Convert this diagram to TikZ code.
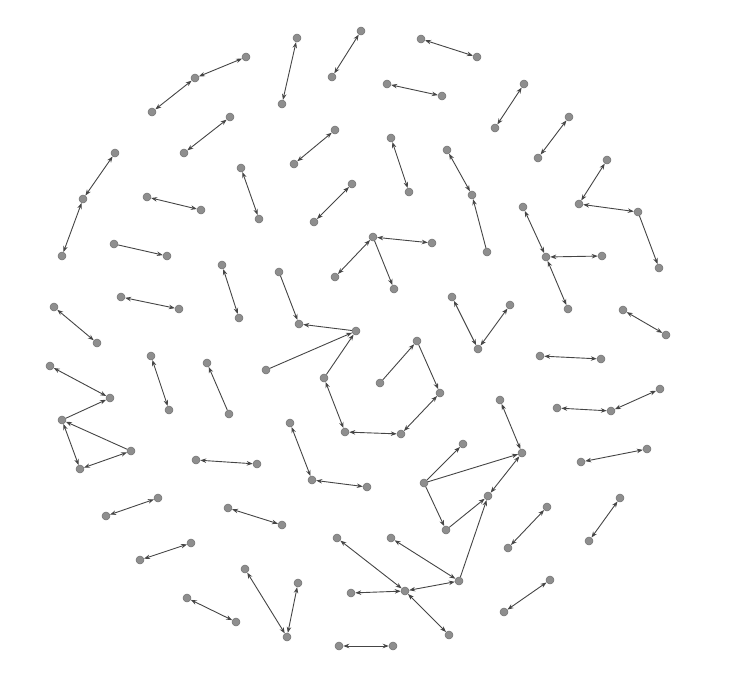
\documentclass[tikz,border=0pt]{standalone}
\usetikzlibrary{arrows.meta}
\definecolor{nodegray}{HTML}{8E8E8E}
\definecolor{nodeedge}{HTML}{707070}
\definecolor{edgegray}{HTML}{454545}
\tikzset{
  vtx/.style={circle,fill=nodegray,draw=nodeedge,line width=0.5pt,inner sep=0pt,minimum size=8pt},
  bi/.style={draw=edgegray,line width=0.9pt,{Stealth[length=6pt,width=4.5pt]}-{Stealth[length=6pt,width=4.5pt]}},
  uni/.style={draw=edgegray,line width=0.9pt,-{Stealth[length=6pt,width=4.5pt]}}
}
\begin{document}
\begin{tikzpicture}[x=1pt,y=-1pt]
\useasboundingbox (0,0) rectangle (747,694);
\foreach \n/\px/\py in {
1/246/57, 2/195/78, 3/152/112, 4/230/117, 5/184/153, 6/115/153, 7/83/199, 8/62/256,
9/297/38, 10/282/104, 11/361/31, 12/332/77, 13/421/39, 14/477/57, 15/387/84, 16/442/96,
17/335/130, 18/294/164, 19/391/138, 20/409/192, 21/447/150, 22/472/195, 23/487/252,
24/524/84, 25/495/128, 26/569/117, 27/538/158, 28/607/160, 29/579/204, 30/638/212, 31/659/268,
32/523/207, 33/546/257, 34/602/256, 35/568/309, 36/623/310, 37/666/335, 38/510/305, 39/478/349,
40/452/297, 41/147/197, 42/201/210, 43/114/244, 44/167/256, 45/121/297, 46/179/309,
47/222/265, 48/239/318, 49/54/307, 50/97/343, 51/241/168, 52/259/219, 53/352/184, 54/314/222,
55/373/237, 56/432/243, 57/335/277, 58/394/289, 59/279/272, 60/299/324, 61/356/331,
62/266/370, 63/324/378, 64/345/432, 65/401/434, 66/440/393, 67/417/341, 68/380/383,
69/50/366, 70/110/398, 71/62/420, 72/131/451, 73/80/469, 74/151/356, 75/169/410,
76/207/363, 77/229/414, 78/196/460, 79/257/464, 80/106/516, 81/158/498, 82/228/508,
83/282/525, 84/290/423, 85/312/480, 86/367/487, 87/424/483, 88/463/444, 89/522/453,
90/446/530, 91/488/496, 92/500/400, 93/540/356, 94/601/359, 95/557/408, 96/611/411,
97/660/389, 98/581/462, 99/647/449, 100/547/507, 101/508/548, 102/620/498, 103/589/541,
104/550/580, 105/504/612, 106/140/560, 107/191/543, 108/187/598, 109/236/622,
110/245/569, 111/287/637, 112/298/583, 113/337/538, 114/405/591, 115/391/538,
116/459/581, 117/351/593, 118/449/635, 119/339/646, 120/393/646}
  \node[vtx] (n\n) at (\px,\py) {};
\foreach \a/\b in {1/2, 2/3, 4/5, 6/7, 7/8, 9/10, 11/12, 13/14, 15/16, 17/18, 19/20, 21/22,
24/25, 26/27, 28/29, 29/30, 32/33, 33/34, 33/35, 36/37, 38/39, 40/39, 41/42, 45/46, 47/48,
49/50, 51/52, 53/54, 55/56, 55/57, 63/64, 64/65, 65/66, 69/70, 71/73, 73/72, 74/75, 78/79,
80/81, 82/83, 84/85, 85/86, 89/91, 92/89, 93/94, 95/96, 96/97, 98/99, 100/101, 102/103,
104/105, 106/107, 108/109, 110/111, 111/112, 113/114, 115/116, 114/116, 114/117, 114/118, 119/120}
  \draw[bi] (n\a) -- (n\b);
\foreach \a/\b in {23/22, 30/31, 43/44, 55/58, 59/60, 61/60, 62/61, 63/61, 67/66, 68/67,
71/70, 72/71, 77/76, 87/88, 87/89, 87/90, 90/91, 116/91}
  \draw[uni] (n\a) -- (n\b);
\end{tikzpicture}
\end{document}
